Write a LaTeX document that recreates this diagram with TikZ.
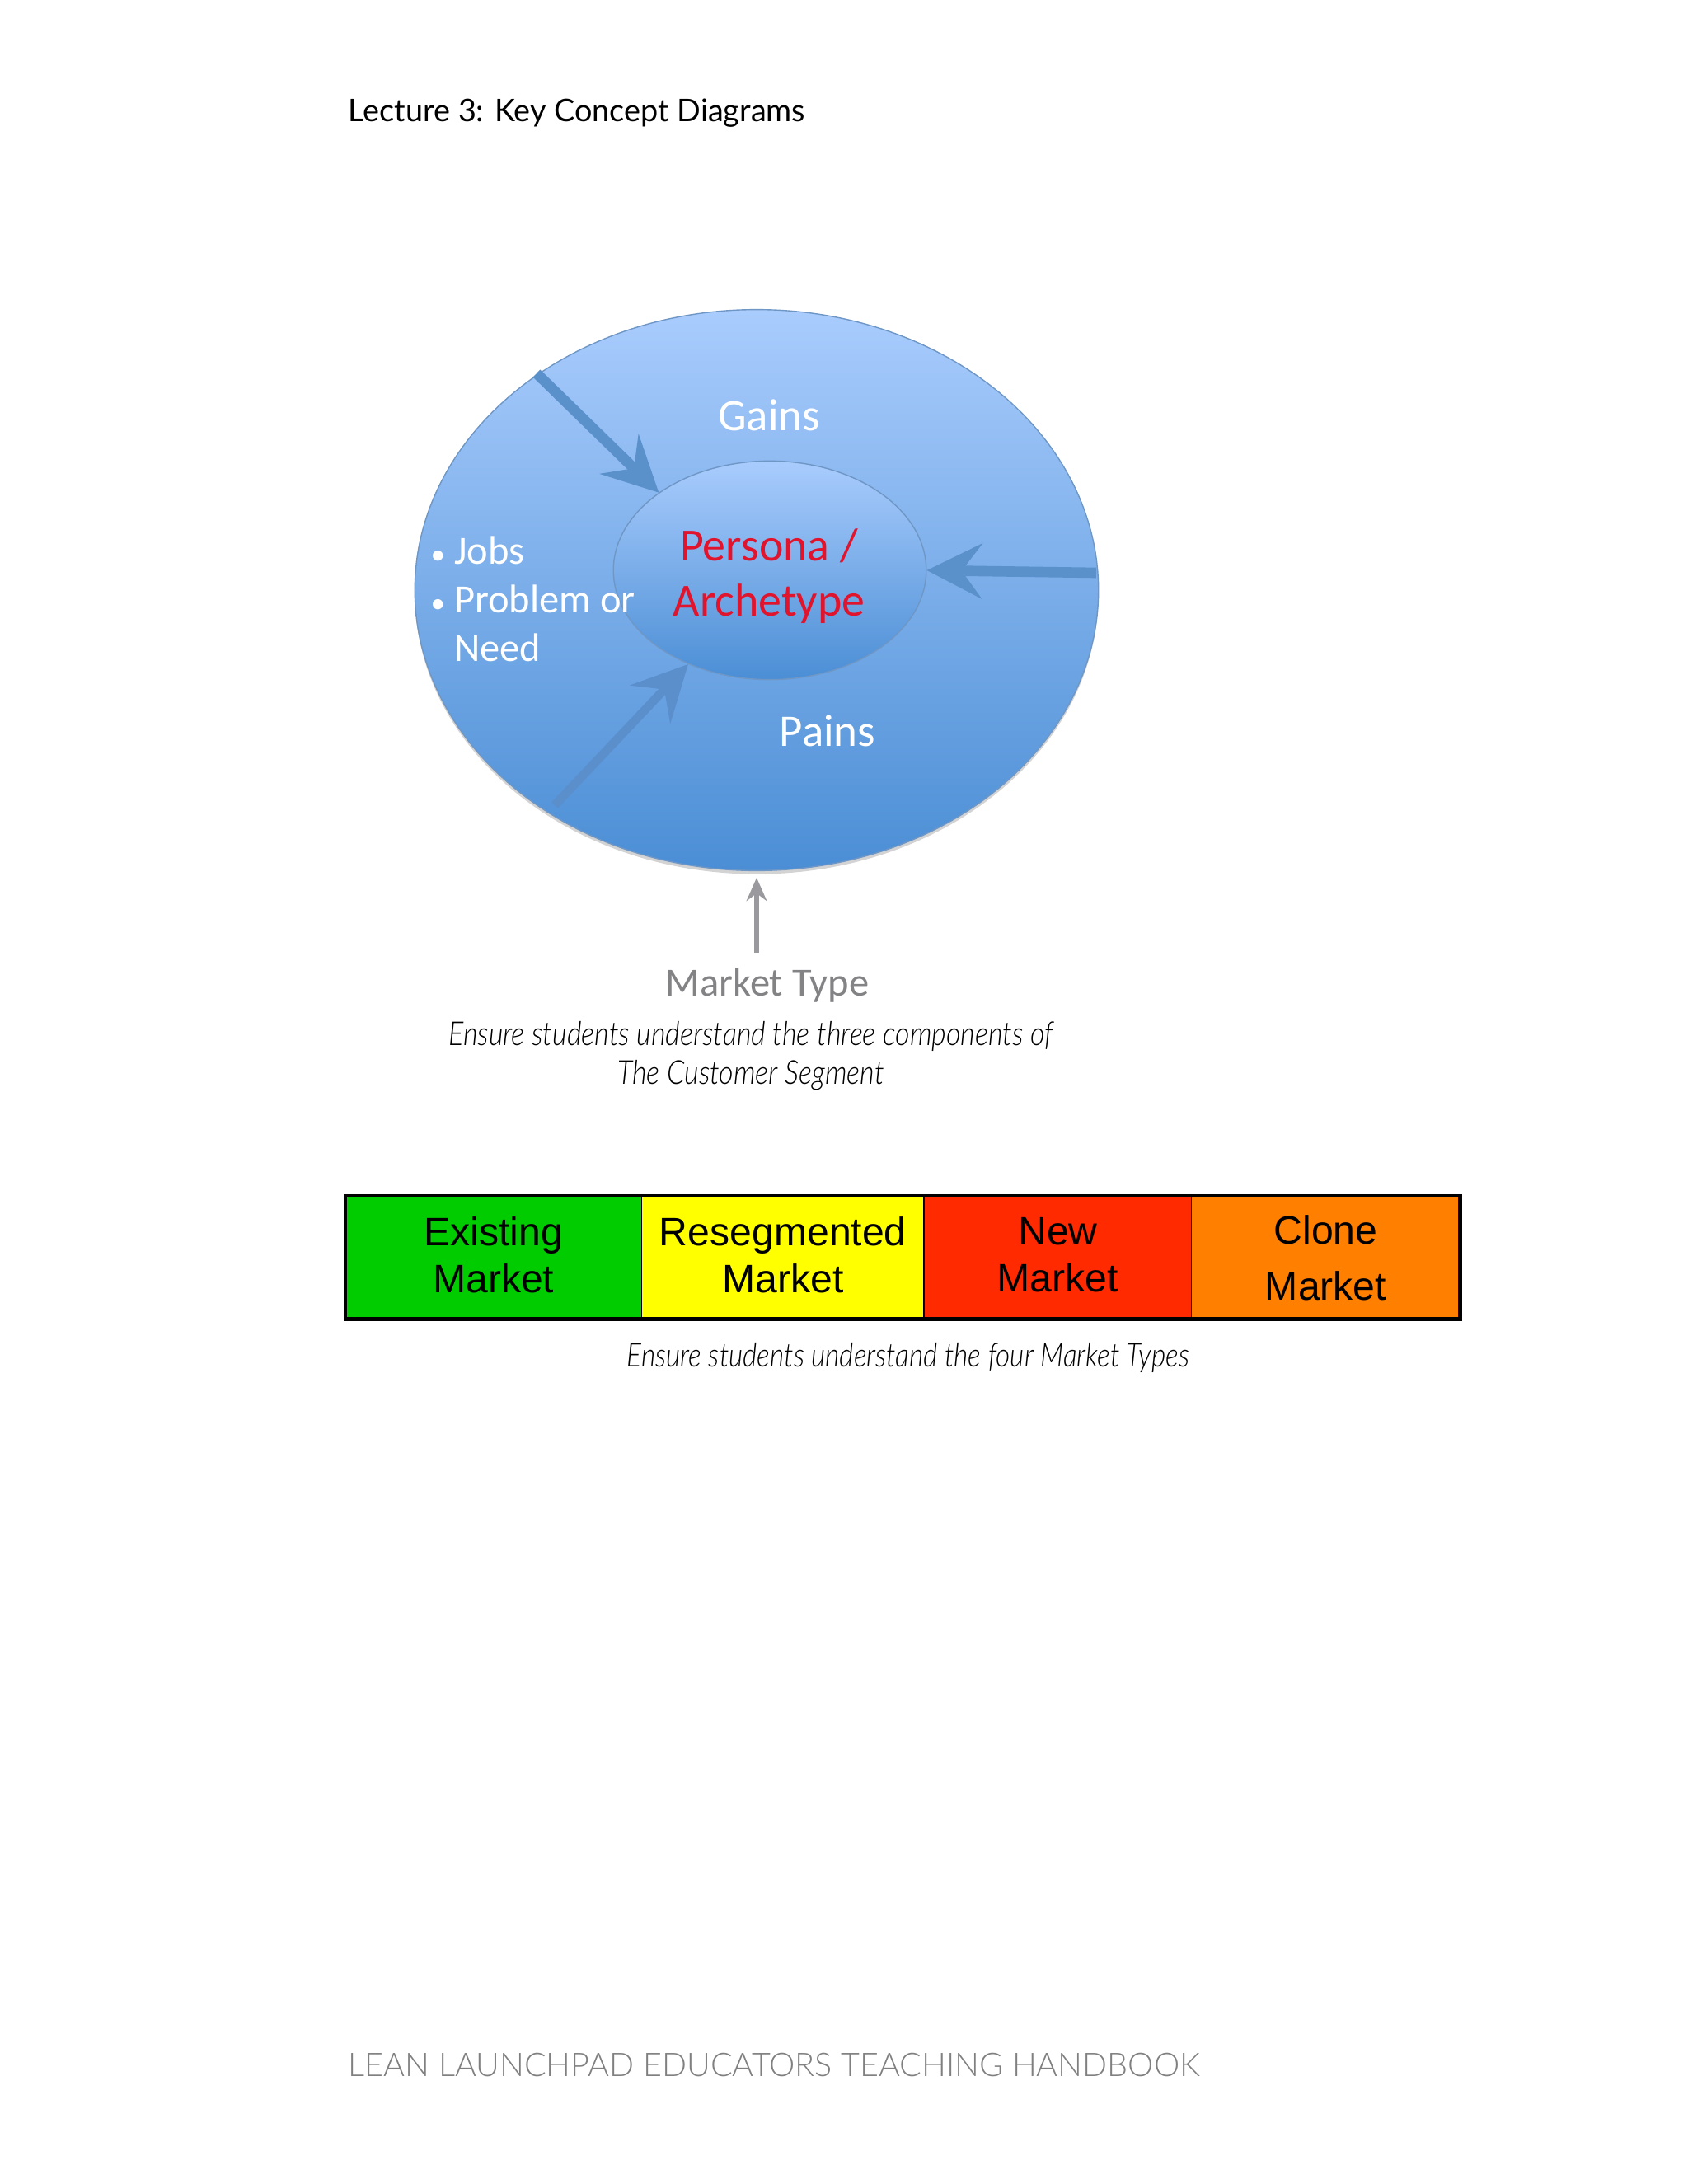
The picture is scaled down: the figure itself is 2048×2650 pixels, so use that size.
\documentclass[tikz,border=0pt]{standalone}
\usepackage{fontspec}
\usepackage{graphicx}
\setmainfont{Lato}[ItalicFont={Lato Light Italic}]
\newfontfamily\slidefont{Carlito}
\newfontfamily\barfont{Liberation Sans}
\newfontfamily\footerfont{Lato Light}
\usetikzlibrary{arrows.meta, positioning, shapes.geometric, shadows}
\definecolor{blueTop}{HTML}{A9CCFD}
\definecolor{blueBottom}{HTML}{4B8ED5}
\definecolor{blueEdge}{HTML}{6F97C6}
\definecolor{blueArrow}{HTML}{5A91CB}
\definecolor{blueArrowPale}{HTML}{5B8FCC}
\definecolor{greyArrow}{HTML}{9A9A9E}
\definecolor{personaRed}{HTML}{E0142D}
\definecolor{cellGreen}{HTML}{00CC00}
\definecolor{cellYellow}{HTML}{FFFF00}
\definecolor{cellRed}{HTML}{FF2A00}
\definecolor{cellOrange}{HTML}{FF7F00}
\newcommand{\squeezed}[1]{\scalebox{0.85}[1]{#1}}
\newcommand{\smallbullet}{{\fontsize{10}{10}\selectfont\textbullet}\ }
\tikzset{
    blob/.style = {ellipse, draw = blueEdge, thin, inner sep = 0pt, top color = blueTop, bottom color = blueBottom},
    inarrow/.style = {draw = blueArrow, line width = 3.6pt, -{Stealth[length = 19pt, width = 19pt, inset = 7pt]}},
    slidetext/.style = {font = \slidefont\fontsize{15.6}{19}\selectfont, text = white, inner sep = 0pt},
    cell/.style = {minimum height = 42.2pt, inner sep = 0pt, align = center, text = black, text depth = 2pt,
        font = \barfont\fontsize{13.7}{16.3}\selectfont},
    caption/.style = {font = \fontsize{11.4}{13.4}\selectfont\itshape, text = black, inner sep = 0pt, align = center}
}
\begin{document}
\begin{tikzpicture}[x = 0.1mm, y = -0.1mm]
    \useasboundingbox (0, 0) rectangle (2048, 2650);
    \node[inner sep = 0pt, anchor = west, font = \fontsize{10.75}{13}\selectfont] (title) at (422, 137) {Lecture 3: Key Concept Diagrams};

    % customer segment
    \node[blob, minimum width = 236pt, minimum height = 193.7pt,
        drop shadow = {shadow xshift = 0pt, shadow yshift = -1.2pt, opacity = 0.35, fill = black!50}] (segment) at (918, 716) {};
    \node[blob, minimum width = 108pt, minimum height = 75.5pt] (persona) at (934, 692) {};
    \coordinate (gainsEnd) at (651, 453);
    \coordinate (needEnd) at (673, 977);
    \coordinate (painsEnd) at (1330, 695);
    \draw[inarrow] (gainsEnd) -- (persona.145);
    \draw[inarrow, line width = 3pt, draw = blueArrowPale] (needEnd) -- (persona.229);
    \draw[inarrow] (painsEnd) -- (persona.east);

    \node[slidetext] (gains) at (933, 504) {Gains};
    \node[slidetext, text = personaRed, align = center, font = \slidefont\fontsize{15.9}{19.2}\selectfont] (archetype) at (933, 699) {Persona /\\Archetype};
    \node[slidetext] (pains) at (1004, 887) {Pains};
    \node[slidetext, align = left, anchor = north west, font = \slidefont\fontsize{13.8}{16.8}\selectfont] (jobs) at (522, 650)
        {\smallbullet Jobs\\\smallbullet Problem or\\\phantom{\smallbullet}Need};

    \node[slidetext, text = greyArrow!85!black, font = \slidefont\fontsize{13.8}{16}\selectfont] (market) at (931, 1196) {Market Type};
    \coordinate (marketTip) at (918, 1065);
    \coordinate (marketTail) at (918, 1156);
    \draw[draw = greyArrow, line width = 1.5pt, -{Stealth[length = 8pt, width = 7pt]}] (marketTail) -- (marketTip);
    \node[caption] (segmentCap) at (911, 1281) {\squeezed{Ensure students understand the three components of}\\\squeezed{The Customer Segment}};

    % market types
    \node[cell, fill = cellGreen, minimum width = 101.9pt, anchor = north west] (existing) at (419, 1451) {Existing\\Market};
    \node[cell, fill = cellYellow, minimum width = 97.1pt, right = 0pt of existing] (resegmented) {Resegmented\\Market};
    \node[cell, fill = cellRed, minimum width = 91.9pt, right = 0pt of resegmented] (new) {New\\Market};
    \node[cell, fill = cellOrange, minimum width = 92.3pt, right = 0pt of new, text depth = 0pt, font = \barfont\fontsize{13.7}{19.5}\selectfont] (clone) {Clone\\Market};
    \draw[line width = 0.5pt] (existing.north east) -- (existing.south east);
    \draw[line width = 0.5pt] (resegmented.north east) -- (resegmented.south east);
    \draw[line width = 0.5pt] (new.north east) -- (new.south east);
    \draw[line width = 1.3pt] (existing.north west) rectangle (clone.south east);
    \node[caption] (marketCap) at (1102, 1647) {\scalebox{0.98}[1]{\squeezed{Ensure students understand the four Market Types}}};

    \node[inner sep = 0pt, anchor = west, text = black!50, font = \footerfont\fontsize{11.25}{13}\selectfont] (footer) at (422, 2505) {LEAN LAUNCHPAD EDUCATORS TEACHING HANDBOOK};
\end{tikzpicture}
\end{document}
